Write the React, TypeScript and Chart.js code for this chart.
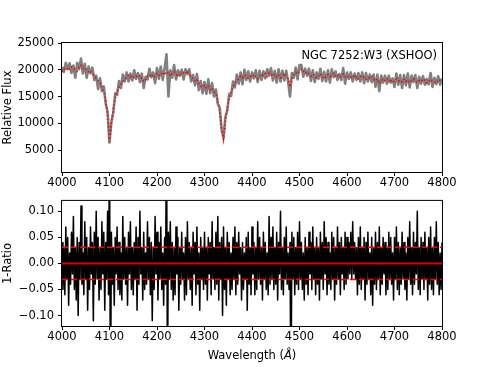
import React, { useEffect, useRef } from 'react';
import { Chart, registerables } from 'chart.js';

Chart.register(...registerables);

// ---- data ----
const WAVE_START = 4000;
const FLUX_STEP = 4;
const RESID_STEP = 2;

const MODEL_FLUX = [
  19600, 20200, 19900, 20400, 20100, 20600, 20300, 20000, 19700, 20500,
  20800, 20200, 20400, 19900, 19600, 19800, 19200, 18900, 18300, 18000,
  17600, 17000, 16000, 14400, 11500, 6600, 9800, 12800, 14600, 15900,
  16800, 17300, 17800, 18200, 18600, 19000, 18700, 18900, 18500, 18800,
  18600, 19000, 18300, 17800, 18200, 18900, 18700, 19200, 18600, 18900,
  19300, 18900, 19400, 19000, 19600, 19100, 19500, 18800, 19300, 19600,
  19200, 18700, 19400, 19100, 19500, 19300, 19800, 19000, 18700, 18300,
  17900, 18200, 17400, 17000, 16700, 17100, 16500, 16900, 16300, 16600,
  15900, 15600, 14400, 12300, 9300, 7000, 10500, 13000, 14600, 15800,
  16800, 17500, 18000, 18300, 18800, 18500, 19000, 18700, 18400, 18800,
  18600, 19100, 18700, 18300, 18800, 19200, 18900, 19300, 18700, 19400,
  19100, 18800, 19200, 18600, 19000, 18500, 18900, 19300, 18800, 18400,
  16800, 18600, 19100, 19500, 19200, 19700, 20100, 19800, 19300, 19600,
  19100, 18800, 19200, 18900, 18500, 18900, 19300, 18700, 18300, 18800,
  19100, 18700, 18900, 19300, 18800, 19100, 18600, 18900, 19200, 18700,
  18500, 18900, 18600, 19000, 18500, 18800, 18300, 18700, 18900, 18500,
  18200, 18600, 18400, 18700, 18200, 17900, 18300, 17400, 17900, 18300,
  18000, 18400, 17800, 18200, 17600, 18000, 18300, 17900, 18100, 17700,
  18200, 17800, 18100, 17600, 17900, 18300, 17900, 17600, 18000, 18200,
  17800, 18100, 17500, 17900, 18200, 17800, 17600, 18000, 17700, 18100,
  17800,
];

const OBS_FLUX = [
  20500, 19600, 21300, 20100, 21200, 19400, 20800, 18500, 21300, 20100,
  22100, 19300, 21100, 18500, 20600, 19300, 20400, 18100, 18900, 16400,
  18400, 16000, 16900, 13700, 12100, 6400, 10300, 12000, 15600, 15300,
  17900, 16600, 19100, 17800, 19500, 17800, 19300, 18000, 19900, 18300,
  19400, 17700, 19300, 16600, 18700, 18200, 20200, 18600, 19500, 17500,
  20300, 18300, 20600, 18100, 20300, 22900, 15000, 19900, 18500, 20900,
  18200, 19900, 18900, 20000, 18200, 20100, 19200, 20100, 17800, 19000,
  17100, 19200, 16200, 17900, 15600, 17700, 15500, 18200, 15600, 17500,
  15000, 16300, 13600, 12900, 8800, 7200, 11200, 12400, 15500, 15100,
  17800, 16700, 19100, 17400, 19500, 17300, 20000, 18100, 19700, 17800,
  19500, 18400, 19900, 17700, 19800, 18100, 19700, 18400, 20100, 18900,
  20300, 18000, 19800, 17600, 20100, 17800, 19800, 18000, 19800, 17800,
  15000, 19400, 18500, 20400, 18200, 20900, 20900, 18700, 20200, 18900,
  20200, 17900, 19900, 17700, 19500, 18300, 20200, 17900, 19600, 17800,
  19900, 17600, 20100, 18600, 19700, 18100, 19200, 18100, 20300, 17400,
  19500, 18300, 19500, 17800, 19300, 18100, 19400, 17800, 19500, 17500,
  19400, 17800, 19100, 17700, 19100, 16800, 19100, 16000, 18900, 17600,
  18900, 17400, 18900, 17600, 18400, 16800, 19300, 17200, 19000, 16600,
  19000, 17100, 19300, 16700, 18900, 17700, 19000, 16600, 18700, 17400,
  18800, 17200, 18300, 17300, 19400, 16800, 18500, 17300, 18800, 17200,
  18400,
];

const RESIDUAL = [
  0.04, -0.05, 0.03, -0.06, 0.07, -0.03, 0.05, -0.08, 0.02, -0.04,
  0.06, -0.02, 0.09, -0.05, 0.03, -0.07, 0.05, -0.1, 0.04, -0.03,
  0.11, -0.04, 0.02, -0.06, 0.08, -0.03, 0.05, -0.09, 0.03, -0.05,
  0.07, -0.02, 0.04, -0.11, 0.06, -0.04, 0.1, -0.03, 0.05, -0.07,
  0.03, -0.05, 0.08, -0.02, 0.06, -0.09, 0.04, -0.03, 0.1, -0.06,
  0.25, -0.3, 0.06, -0.04, 0.03, -0.08, 0.05, -0.02, 0.07, -0.05,
  0.04, -0.06, 0.02, -0.07, 0.09, -0.03, 0.05, -0.04, 0.03, -0.08,
  0.06, -0.02, 0.08, -0.05, 0.03, -0.06, 0.04, -0.03, 0.07, -0.09,
  0.05, -0.04, 0.1, -0.02, 0.03, -0.07, 0.06, -0.05, 0.02, -0.04,
  0.08, -0.03, 0.05, -0.06, 0.04, -0.11, 0.03, -0.05, 0.09, -0.02,
  0.06, -0.07, 0.04, -0.03, 0.07, -0.05, 0.02, -0.08, 0.05, -0.04,
  0.3, -0.25, 0.06, -0.03, 0.08, -0.05, 0.04, -0.07, 0.03, -0.06,
  0.07, -0.02, 0.05, -0.09, 0.03, -0.04, 0.06, -0.03, 0.02, -0.07,
  0.05, -0.06, 0.08, -0.03, 0.04, -0.05, 0.03, -0.08, 0.06, -0.02,
  0.04, -0.06, 0.07, -0.04, 0.02, -0.09, 0.05, -0.03, 0.03, -0.05,
  0.06, -0.04, 0.03, -0.07, 0.05, -0.02, 0.04, -0.06, 0.08, -0.03,
  0.03, -0.05, 0.06, -0.04, 0.09, -0.07, 0.04, -0.03, 0.05, -0.1,
  0.07, -0.05, 0.03, -0.08, 0.06, -0.03, 0.04, -0.06, 0.02, -0.05,
  0.05, -0.03, 0.07, -0.06, 0.04, -0.04, 0.06, -0.02, 0.03, -0.07,
  0.04, -0.05, 0.02, -0.03, 0.05, -0.09, 0.06, -0.04, 0.03, -0.06,
  0.07, -0.02, 0.04, -0.06, 0.03, -0.05, 0.08, -0.03, 0.05, -0.04,
  0.03, -0.07, 0.06, -0.03, 0.04, -0.05, 0.02, -0.06, 0.09, -0.04,
  0.05, -0.03, 0.07, -0.05, 0.03, -0.04, 0.06, -0.07, 0.04, -0.02,
  0.1, -0.05, 0.03, -0.06, 0.05, -0.03, 0.07, -0.04, 0.02, -0.05,
  0.04, -0.3, 0.06, -0.03, 0.05, -0.06, 0.03, -0.04, 0.06, -0.05,
  0.08, -0.03, 0.04, -0.05, 0.02, -0.07, 0.05, -0.04, 0.03, -0.06,
  0.06, -0.02, 0.04, -0.05, 0.07, -0.03, 0.03, -0.06, 0.05, -0.04,
  0.03, -0.07, 0.06, -0.03, 0.04, -0.05, 0.08, -0.02, 0.05, -0.06,
  0.04, -0.04, 0.02, -0.05, 0.06, -0.03, 0.05, -0.07, 0.03, -0.04,
  0.07, -0.03, 0.04, -0.06, 0.05, -0.02, 0.03, -0.05, 0.06, -0.04,
  0.05, -0.03, 0.04, -0.02, 0.06, -0.03, 0.08, -0.02, 0.04, -0.03,
  0.03, -0.06, 0.05, -0.04, 0.07, -0.05, 0.03, -0.03, 0.05, -0.07,
  0.04, -0.04, 0.06, -0.03, 0.02, -0.06, 0.05, -0.08, 0.03, -0.04,
  0.06, -0.05, 0.04, -0.03, 0.07, -0.06, 0.03, -0.04, 0.05, -0.02,
  0.04, -0.06, 0.03, -0.05, 0.06, -0.03, 0.05, -0.04, 0.02, -0.07,
  0.05, -0.03, 0.07, -0.05, 0.04, -0.06, 0.03, -0.04, 0.06, -0.03,
  0.04, -0.05, 0.02, -0.07, 0.05, -0.03, 0.08, -0.04, 0.03, -0.06,
  0.06, -0.04, 0.04, -0.02, 0.1, -0.05, 0.03, -0.06, 0.05, -0.03,
  0.04, -0.05, 0.06, -0.03, 0.03, -0.07, 0.05, -0.04, 0.07, -0.05,
  0.03, -0.06, 0.05, -0.03, 0.08, -0.04, 0.04, -0.06, 0.02, -0.05,
  0.04,
];

const ZERO_LEVEL = 0;
const SIGMA_LEVEL = 0.031;

const X_TICKS = [4000, 4100, 4200, 4300, 4400, 4500, 4600, 4700, 4800];
const FLUX_TICKS = [5000, 10000, 15000, 20000, 25000];
const RESID_TICKS = [-0.1, -0.05, 0, 0.05, 0.1];
const FLUX_RANGE = [900, 25000];
const RESID_RANGE = [-0.12, 0.12];

const LABEL_TEXT = 'NGC 7252:W3 (XSHOO)';
const Y_TITLE_TOP = 'Relative Flux';
const Y_TITLE_BOTTOM = '1-Ratio';

// ---- styling ----
const FONT = 'DejaVu Sans';
const FS = 11.5;

const framePlugin = {
  id: 'frame',
  afterDatasetsDraw(chart: any) {
    const { ctx, chartArea: a } = chart;
    ctx.save();
    ctx.strokeStyle = '#000';
    ctx.lineWidth = 1;
    ctx.strokeRect(a.left - 0.5, a.top - 0.5, a.right - a.left + 1, a.bottom - a.top + 1);
    ctx.restore();
  },
};

const labelPlugin = {
  id: 'labelText',
  afterDraw(chart: any) {
    const { ctx, chartArea: a } = chart;
    ctx.save();
    ctx.font = `${FS}px "${FONT}"`;
    ctx.fillStyle = '#000';
    ctx.textAlign = 'right';
    ctx.textBaseline = 'middle';
    ctx.fillText(LABEL_TEXT, a.right - 5, a.top + 13);
    ctx.restore();
  },
};

const xTitlePlugin = {
  id: 'xTitle',
  afterDraw(chart: any) {
    const { ctx, chartArea: a } = chart;
    const parts = [
      { t: 'Wavelength (', f: `${FS}px "${FONT}"` },
      { t: 'Å', f: `italic ${FS}px "${FONT}"` },
      { t: ')', f: `${FS}px "${FONT}"` },
    ];
    ctx.save();
    ctx.fillStyle = '#000';
    ctx.textBaseline = 'middle';
    ctx.textAlign = 'left';
    let total = 0;
    const widths = parts.map((p) => {
      ctx.font = p.f;
      const w = ctx.measureText(p.t).width;
      total += w;
      return w;
    });
    let x = (a.left + a.right) / 2 - total / 2;
    const y = a.bottom + 30;
    parts.forEach((p, i) => {
      ctx.font = p.f;
      ctx.fillText(p.t, x, y);
      x += widths[i];
    });
    ctx.restore();
  },
};

function xScale(height: number) {
  return {
    type: 'linear',
    min: X_TICKS[0],
    max: X_TICKS[X_TICKS.length - 1],
    afterBuildTicks: (s: any) => {
      s.ticks = X_TICKS.map((v) => ({ value: v }));
    },
    afterFit: (s: any) => {
      s.height = height;
    },
    grid: {
      display: true,
      drawOnChartArea: false,
      drawTicks: true,
      tickLength: 4,
      color: '#000',
      tickColor: '#000',
      lineWidth: 1,
    },
    border: { display: false },
    ticks: {
      color: '#000',
      font: { family: FONT, size: FS, lineHeight: 1 },
      padding: 1,
      maxRotation: 0,
      autoSkip: false,
      callback: (v: any) => String(v),
    },
  };
}

function yScale(range: number[], ticks: number[], title: string, fmt: (v: number) => string) {
  return {
    type: 'linear',
    min: range[0],
    max: range[1],
    afterBuildTicks: (s: any) => {
      s.ticks = ticks.map((v) => ({ value: v }));
    },
    afterFit: (s: any) => {
      s.width = 62;
    },
    grid: {
      display: true,
      drawOnChartArea: false,
      drawTicks: true,
      tickLength: 4,
      color: '#000',
      tickColor: '#000',
      lineWidth: 1,
    },
    border: { display: false },
    title: {
      display: true,
      text: title,
      color: '#000',
      font: { family: FONT, size: FS },
      padding: { top: 1, bottom: 0 },
    },
    ticks: {
      color: '#000',
      font: { family: FONT, size: FS },
      padding: 4,
      autoSkip: false,
      callback: (v: any) => fmt(Number(v)),
    },
  };
}

export default function App() {
  const topRef = useRef<HTMLCanvasElement>(null);
  const botRef = useRef<HTMLCanvasElement>(null);

  useEffect(() => {
    const obsPts = OBS_FLUX.map((y, i) => ({ x: WAVE_START + i * FLUX_STEP, y }));
    const modelPts = MODEL_FLUX.map((y, i) => ({ x: WAVE_START + i * FLUX_STEP, y }));
    const residPts = RESIDUAL.map((y, i) => ({ x: WAVE_START + i * RESID_STEP, y }));
    const x0 = X_TICKS[0];
    const x1 = X_TICKS[X_TICKS.length - 1];

    const top = new Chart(topRef.current as HTMLCanvasElement, {
      type: 'line',
      data: {
        datasets: [
          {
            data: obsPts,
            order: 2,
            borderColor: '#808080',
            borderWidth: 2.6,
            pointRadius: 0,
            borderJoinStyle: 'round',
            tension: 0,
          },
          {
            data: modelPts,
            order: 1,
            borderColor: '#ff0000',
            borderWidth: 1.5,
            borderDash: [1.5, 2.2],
            pointRadius: 0,
            tension: 0,
          },
        ],
      } as any,
      options: {
        responsive: false,
        animation: false,
        devicePixelRatio: 1,
        layout: { padding: { top: 43, right: 49, left: 0, bottom: 0 } },
        plugins: { legend: { display: false }, tooltip: { enabled: false } },
        scales: {
          x: xScale(18),
          y: yScale(FLUX_RANGE, FLUX_TICKS, Y_TITLE_TOP, (v) => String(v)),
        } as any,
      },
      plugins: [framePlugin, labelPlugin],
    });

    const bot = new Chart(botRef.current as HTMLCanvasElement, {
      type: 'line',
      data: {
        datasets: [
          {
            data: residPts,
            order: 2,
            borderColor: '#000',
            borderWidth: 1.5,
            pointRadius: 0,
            borderJoinStyle: 'round',
            tension: 0,
          },
          {
            data: [{ x: x0, y: ZERO_LEVEL }, { x: x1, y: ZERO_LEVEL }],
            order: 1,
            borderColor: '#e00000',
            borderWidth: 2,
            pointRadius: 0,
          },
          {
            data: [{ x: x0, y: SIGMA_LEVEL }, { x: x1, y: SIGMA_LEVEL }],
            order: 1,
            borderColor: '#ff0000',
            borderWidth: 1.5,
            borderDash: [6, 3],
            pointRadius: 0,
          },
          {
            data: [{ x: x0, y: -SIGMA_LEVEL }, { x: x1, y: -SIGMA_LEVEL }],
            order: 1,
            borderColor: '#ff0000',
            borderWidth: 1.5,
            borderDash: [6, 3],
            pointRadius: 0,
          },
        ],
      } as any,
      options: {
        responsive: false,
        animation: false,
        devicePixelRatio: 1,
        layout: { padding: { top: 7, right: 49, left: 0, bottom: 0 } },
        plugins: { legend: { display: false }, tooltip: { enabled: false } },
        scales: {
          x: xScale(41),
          y: yScale(RESID_RANGE, RESID_TICKS, Y_TITLE_BOTTOM, (v) =>
            (v < 0 ? '\u2212' : '') + Math.abs(v).toFixed(2)
          ),
        } as any,
      },
      plugins: [framePlugin, xTitlePlugin],
    });

    return () => {
      top.destroy();
      bot.destroy();
    };
  }, []);

  return (
    <div style={{ position: 'absolute', left: 0, top: 0, width: 491, height: 367, background: '#fff' }}>
      <canvas ref={topRef} width={491} height={190} style={{ position: 'absolute', left: 0, top: 0 }} />
      <canvas ref={botRef} width={491} height={177} style={{ position: 'absolute', left: 0, top: 190 }} />
    </div>
  );
}
